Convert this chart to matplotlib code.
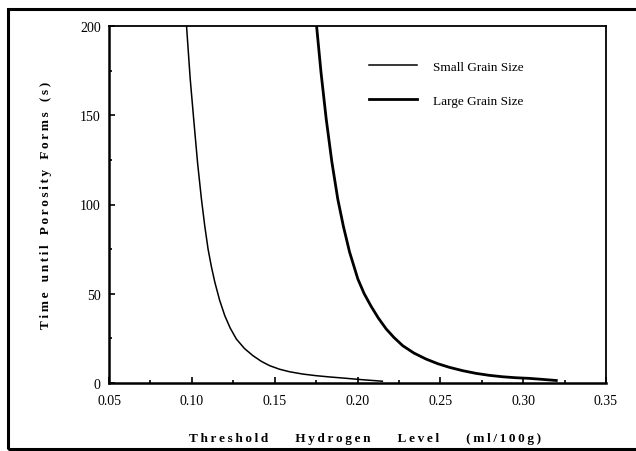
import numpy as np
import matplotlib.pyplot as plt
from matplotlib.patches import Rectangle
from matplotlib.ticker import MultipleLocator

# values
small_x = [0.0968, 0.0990, 0.1012, 0.1035, 0.1058, 0.1078, 0.1098, 0.1118,
           0.1139, 0.1168, 0.1199, 0.1232, 0.1269, 0.1318, 0.1369, 0.1420,
           0.1470, 0.1530, 0.1590, 0.1670, 0.1750, 0.1830, 0.1910, 0.2030,
           0.2150]
small_y = [200, 170.6, 147, 123, 103, 88, 75, 65.2, 56.4, 46.3, 37.7, 30.7,
           24.6, 19.3, 15.3, 12.1, 9.7, 7.7, 6.3, 5.0, 4.1, 3.4, 2.8, 1.84, 1.0]
large_x = [0.1753, 0.1780, 0.1811, 0.1845, 0.1881, 0.1915, 0.1952, 0.2002,
           0.2040, 0.2082, 0.2125, 0.2173, 0.2220, 0.2273, 0.2340, 0.2414,
           0.2485, 0.2554, 0.2635, 0.2715, 0.2795, 0.2875, 0.2955, 0.3036,
           0.3120, 0.3200]
large_y = [200, 173.8, 148, 124, 103, 87.7, 73.4, 58.3, 50.1, 43.0, 36.5,
           30.3, 25.5, 20.9, 16.8, 13.4, 10.8, 8.8, 6.9, 5.4, 4.3, 3.5, 2.95,
           2.6, 2.0, 1.4]
labels = ['Small Grain Size', 'Large Grain Size']
x_ticks = [0.05, 0.10, 0.15, 0.20, 0.25, 0.30, 0.35]
y_ticks = [0, 50, 100, 150, 200]

serif = ['Liberation Serif', 'DejaVu Serif']
plt.rcParams['font.family'] = serif


def spaced(s, gap):
    # wide letter spacing like the scan
    return (' ' * gap).join('\u2009'.join(w) for w in s.split(' '))


fig = plt.figure(figsize=(6.36, 4.52), dpi=100)
ax = fig.add_axes([109/636, 1-384/452, 497/636, 357/452])

ax.plot(small_x, small_y, color='black', lw=1.1, label=labels[0])
ax.plot(large_x, large_y, color='black', lw=2.0, label=labels[1])

ax.set_xlim(0.05, 0.35)
ax.set_ylim(0, 200)
ax.set_xticks(x_ticks)
ax.set_xticklabels(['%.2f' % v for v in x_ticks])
ax.set_yticks(y_ticks)
ax.xaxis.set_minor_locator(MultipleLocator(0.025))
ax.yaxis.set_minor_locator(MultipleLocator(25))
ax.tick_params(which='both', direction='in', top=False, right=False,
               labelsize=10, width=1.2)
ax.tick_params(which='major', length=4)
ax.tick_params(which='minor', length=2.5)
ax.tick_params(axis='x', pad=8)
ax.tick_params(axis='y', pad=6)
for sp in ax.spines.values():
    sp.set_linewidth(1.3)
ax.spines['bottom'].set_linewidth(1.8)
ax.spines['left'].set_linewidth(1.8)

ax.set_xlabel(spaced('Threshold Hydrogen Level (ml/100g)', 8), fontsize=9.5,
              fontweight='bold', labelpad=18)
ax.xaxis.label.set_x(0.516)
ax.set_ylabel(spaced('Time until Porosity Forms (s)', 3), fontsize=9.5,
              fontweight='bold', labelpad=20)

ax.legend(frameon=False, loc='upper left', bbox_to_anchor=(0.509, 0.922),
          borderpad=0, handlelength=3.7, handletextpad=1.2,
          labelspacing=1.65, fontsize=9.5)

fig.patches.append(Rectangle((8/636, 2/452), 1.0, 440/452, transform=fig.transFigure,
                             fill=False, lw=2.2, ec='black'))

fig.savefig('out.png', dpi=100)
